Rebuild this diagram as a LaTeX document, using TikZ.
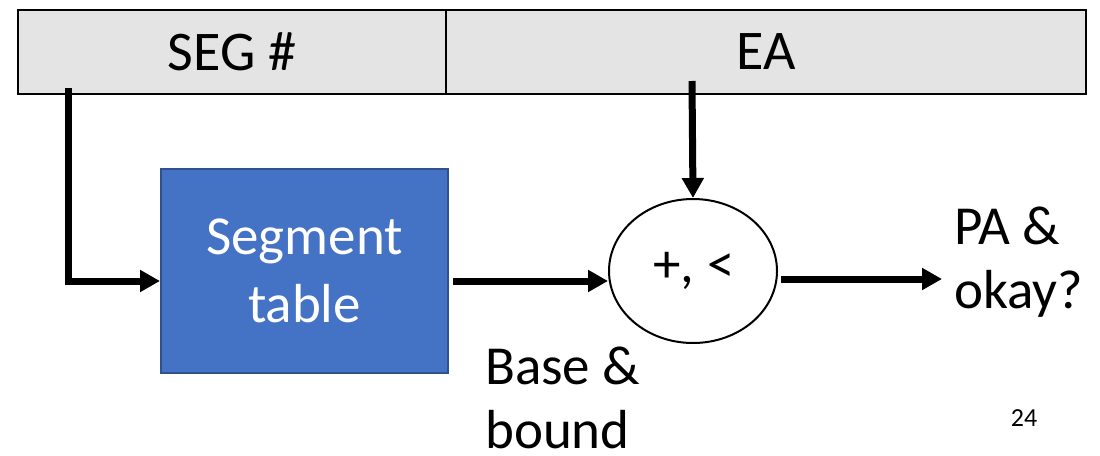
\documentclass[tikz,border=0pt]{standalone}
\usepackage{fontspec}
\setmainfont{Carlito}
\usetikzlibrary{arrows.meta,shapes.geometric}
\definecolor{fieldgray}{HTML}{E4E4E4}
\definecolor{tableblue}{HTML}{4472C4}
\definecolor{tableedge}{HTML}{2F528F}
\tikzset{
  field/.style={draw=black, line width=2.2pt, fill=fieldgray, rectangle,
    minimum height=84pt, inner sep=0pt, font=\fontsize{56}{60}\selectfont},
  tablebox/.style={draw=tableedge, line width=2pt, fill=tableblue, rectangle,
    minimum width=287pt, minimum height=204pt, inner sep=0pt, text=white,
    align=center, font=\fontsize{55}{68}\selectfont},
  alu/.style={draw=black, line width=2pt, ellipse, minimum width=168pt,
    minimum height=144pt, inner sep=0pt},
  label/.style={inner sep=0pt, align=left, font=\fontsize{55}{64}\selectfont},
  flow/.style={line width=7pt, -{Triangle[length=20pt,width=21pt]}},
}
\begin{document}
\begin{tikzpicture}[x=1pt,y=-1pt]
  \useasboundingbox (0,0) rectangle (1100,455);
  % address fields
  \node[field, minimum width=428pt] (segfield) at (232,52) {SEG \#};
  \node[field, minimum width=640pt] (eafield) at (766,52) {EA};
  % translation hardware
  \node[tablebox] (segtable) at (304.5,271) {Segment\\table};
  \node[alu] (alu) at (693,271) {};
  \node[inner sep=0pt, font=\fontsize{55}{60}\selectfont] (op) at (694,271) {+, <};
  % connector end points
  \coordinate (segsrc) at (68,88);
  \coordinate (easrc) at (692,81);
  \coordinate (bend) at (68,281);
  \coordinate (out) at (942,279);
  % connectors
  \draw[flow, line join=miter] (segsrc) -- (bend) -- (segtable.west |- bend);
  \draw[flow] (easrc) -- (alu.north);
  \draw[flow] ([xshift=4pt]segtable.east |- bend) -- (alu.west |- bend);
  \draw[flow] ([xshift=3pt]alu.east |- out) -- (out);
  % labels (base anchor sits on the last line)
  \node[label, anchor=base west] (baselbl) at (485,448) {Base \&\\bound};
  \node[label, anchor=base west] (palbl) at (954,308) {PA \&\\okay?};
  \node[inner sep=0pt, font=\fontsize{26}{30}\selectfont] (pagenum) at (1024,418) {24};
\end{tikzpicture}
\end{document}
